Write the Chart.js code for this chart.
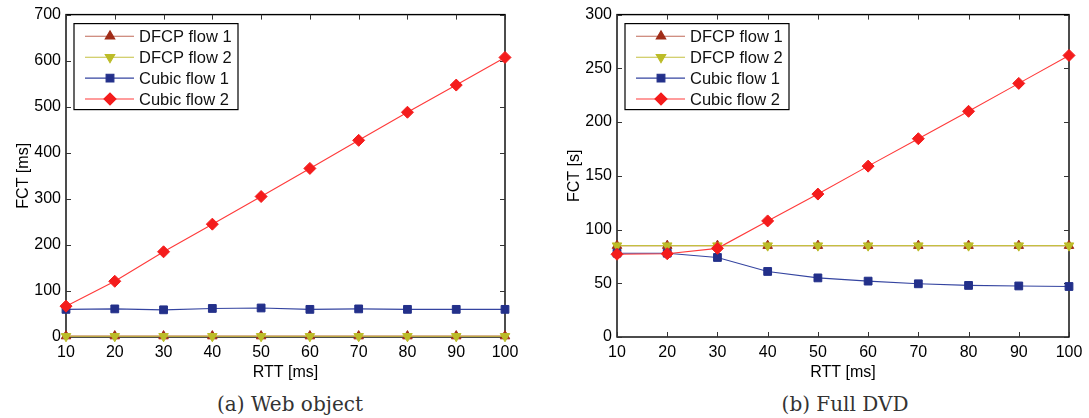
<!DOCTYPE html>
<html>
<head>
<meta charset="utf-8">
<script src="https://cdn.jsdelivr.net/npm/chart.js@4.4.1/dist/chart.umd.min.js"></script>
<style>
  body { margin: 0; background: #fff; width: 1089px; height: 418px; position: relative; overflow: hidden; }
  .panel { position: absolute; top: 0; height: 382px; }
  .caption { position: absolute; top: 392px; font-family: "DejaVu Serif", serif; font-size: 20px; color: #333;
             transform: translateX(-50%); white-space: nowrap; line-height: 24px; }
</style>
</head>
<body>
<div class="panel" style="left:0;width:545px"><canvas id="web"></canvas></div>
<div class="panel" style="left:551px;width:538px"><canvas id="dvd"></canvas></div>
<div class="caption" style="left:290px">(a) Web object</div>
<div class="caption" style="left:845px">(b) Full DVD</div>

<script>
// RTT values on the x axis
const rtt = [10, 20, 30, 40, 50, 60, 70, 80, 90, 100];

// flow completion time, web object [ms]
const webDfcp1  = [2, 2, 2, 2, 2, 2, 2, 2, 2, 2];
const webDfcp2  = [1.5, 1.5, 1.5, 1.5, 1.5, 1.5, 1.5, 1.5, 1.5, 1.5];
const webCubic1 = [60, 61, 59, 62, 63, 60, 61, 60, 60, 60];
const webCubic2 = [67, 121, 185, 245, 305, 366, 427, 488, 547, 607];

// flow completion time, full DVD [s]
const dvdDfcp1  = [85, 85, 85, 85, 85, 85, 85, 85, 85, 85];
const dvdDfcp2  = [85, 85, 85, 85, 85, 85, 85, 85, 85, 85];
const dvdCubic1 = [78, 78, 74, 61, 55, 52, 49.5, 48, 47.5, 47];
const dvdCubic2 = [77, 77.5, 82.5, 108, 133, 159, 184.5, 210, 236, 262];

const flowNames = ['DFCP flow 1', 'DFCP flow 2', 'Cubic flow 1', 'Cubic flow 2'];

// line / marker look per flow, same order as flowNames
const looks = [
  { line: '#c06a58', mark: '#a02c18', style: 'triangle', rot: 0,   r: 5.5, w: 1.1 },
  { line: '#c4c040', mark: '#bcbc28', style: 'triangle', rot: 180, r: 5.5, w: 1.1 },
  { line: '#3444a0', mark: '#23308a', style: 'rect',     rot: 0,   r: 5.5, w: 1.1 },
  { line: '#ff3a3a', mark: '#f41c1c', style: 'rectRot',  rot: 0,   r: 6,   w: 1.1 }
];

const font = { family: '"Liberation Sans", Arial, sans-serif', size: 16 };

// closed box with inward ticks on all four sides
const frame = {
  id: 'frame',
  beforeDatasetsDraw(chart) {
    const { ctx, chartArea: a, scales: { x, y } } = chart;
    ctx.save();
    ctx.strokeStyle = '#000';
    ctx.lineWidth = 1.4;
    ctx.strokeRect(a.left, a.top, a.width, a.height);
    ctx.lineWidth = 1;
    ctx.strokeStyle = '#333';
    ctx.beginPath();
    x.ticks.forEach(t => {
      const px = Math.round(x.getPixelForValue(t.value)) + 0.5;
      ctx.moveTo(px, a.bottom); ctx.lineTo(px, a.bottom - 5);
      ctx.moveTo(px, a.top);    ctx.lineTo(px, a.top + 5);
    });
    y.ticks.forEach(t => {
      const py = Math.round(y.getPixelForValue(t.value)) + 0.5;
      ctx.moveTo(a.left, py);  ctx.lineTo(a.left + 5, py);
      ctx.moveTo(a.right, py); ctx.lineTo(a.right - 5, py);
    });
    ctx.stroke();
    ctx.restore();
  }
};

// legend box in the upper left corner of the plot
const boxLegend = {
  id: 'boxLegend',
  afterDatasetsDraw(chart) {
    const { ctx, chartArea: a } = chart;
    const bx = a.left + 8, by = a.top + 9;
    ctx.save();
    ctx.fillStyle = '#fff';
    ctx.fillRect(bx, by, 164, 86);
    ctx.strokeStyle = '#000';
    ctx.lineWidth = 1.2;
    ctx.strokeRect(bx, by, 164, 86);
    flowNames.forEach((name, i) => {
      const lk = looks[i];
      const cy = by + 12.7 + i * 20.9;
      ctx.strokeStyle = lk.line;
      ctx.lineWidth = lk.w;
      ctx.beginPath();
      ctx.moveTo(bx + 11, cy); ctx.lineTo(bx + 60, cy);
      ctx.stroke();
      ctx.fillStyle = lk.mark;
      ctx.strokeStyle = lk.mark;
      Chart.helpers.drawPoint(ctx, { pointStyle: lk.style, radius: lk.r, rotation: lk.rot, borderWidth: 1 }, bx + 36, cy);
      ctx.fillStyle = '#111';
      ctx.font = '16.5px "Liberation Sans", Arial, sans-serif';
      ctx.textBaseline = 'middle';
      ctx.fillText(name, bx + 65, cy + 1);
    });
    ctx.restore();
  }
};

function makeChart(id, values, yMax, yStep, yTitle, rightPad) {
  const datasets = values.map((vals, i) => {
    const lk = looks[i];
    return {
      label: flowNames[i],
      data: rtt.map((x, j) => ({ x: x, y: vals[j] })),
      borderColor: lk.line,
      borderWidth: lk.w,
      backgroundColor: lk.mark,
      pointBackgroundColor: lk.mark,
      pointBorderColor: lk.mark,
      pointBorderWidth: 1,
      pointStyle: lk.style,
      pointRotation: lk.rot,
      pointRadius: lk.r,
      tension: 0,
      clip: false,
      order: values.length - i
    };
  });

  return new Chart(document.getElementById(id), {
    type: 'line',
    data: { datasets: datasets },
    plugins: [frame, boxLegend],
    options: {
      responsive: true,
      maintainAspectRatio: false,
      animation: false,
      devicePixelRatio: 1,
      layout: { padding: { top: 14, right: rightPad, left: 0, bottom: 0 } },
      plugins: { legend: { display: false }, tooltip: { enabled: false } },
      scales: {
        x: {
          type: 'linear', min: 10, max: 100,
          ticks: { stepSize: 10, padding: 6, color: '#000', font: font },
          grid: { display: false, drawTicks: false },
          border: { display: false },
          title: { display: true, text: 'RTT [ms]', color: '#000', font: font, padding: { top: 0, bottom: 0 } },
          afterFit: s => { s.height = 45; }
        },
        y: {
          min: 0, max: yMax,
          ticks: { stepSize: yStep, padding: 5, color: '#000', font: font },
          grid: { display: false, drawTicks: false },
          border: { display: false },
          title: { display: true, text: yTitle, color: '#000', font: font, padding: { top: 14, bottom: 0 } },
          afterFit: s => { s.width = 66; }
        }
      }
    }
  });
}

makeChart('web', [webDfcp1, webDfcp2, webCubic1, webCubic2], 700, 100, 'FCT [ms]', 40);
makeChart('dvd', [dvdDfcp1, dvdDfcp2, dvdCubic1, dvdCubic2], 300, 50, 'FCT [s]', 20);
</script>
</body>
</html>
